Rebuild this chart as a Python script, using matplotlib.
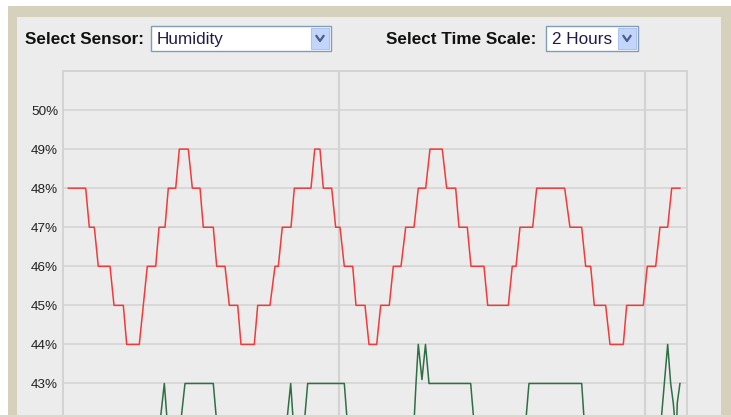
# -*- coding: utf-8 -*-
import matplotlib.pyplot as plt
from matplotlib.patches import Rectangle
from matplotlib.lines import Line2D

#%% Data (time in minutes after 10:00, humidity in %)
# red sensor: plateaus (start, end, level)
red_start = [6.92, 11.04, 12.80, 15.88, 18.37, 22.41, 24.71, 26.53, 28.69, 31.24,
             33.39, 36.02, 38.49, 40.78, 44.06, 47.45, 48.88, 51.24, 55.24, 56.92,
             59.35, 61.04, 63.33, 65.88, 68.18, 70.65, 73.08, 75.55, 77.84, 81.12,
             83.53, 85.88, 89.16, 93.98, 95.49, 98.76, 105.29, 108.37, 110.06, 113.14,
             116.41, 120.45, 122.94, 125.24]
red_end = [10.33, 12.02, 15.10, 17.71, 20.84, 24.06, 25.88, 27.98, 30.45, 32.75,
           35.35, 37.65, 40.14, 43.39, 46.47, 48.10, 50.59, 54.51, 56.27, 58.57,
           60.20, 62.69, 65.10, 67.39, 69.86, 72.16, 74.71, 77.00, 80.25, 82.88,
           85.16, 88.43, 93.20, 94.71, 97.98, 104.25, 107.59, 109.35, 112.29, 115.75,
           119.67, 122.10, 124.45, 126.86]
red_level = [48, 47, 46, 45, 44, 46, 47, 48, 49, 48,
             47, 46, 45, 44, 45, 46, 47, 48, 49, 48,
             47, 46, 45, 44, 45, 46, 47, 48, 49, 48,
             47, 46, 45, 46, 47, 48, 47, 46, 45, 44,
             45, 46, 47, 48]

# green sensor
green_minutes = [6.92, 24.90, 25.75, 26.33, 28.96, 29.80, 35.35, 36.02, 49.75, 50.53,
                 51.04, 53.20, 53.86, 61.04, 61.63, 74.71, 75.10, 75.55, 76.27, 76.96,
                 77.65, 85.82, 86.47, 96.61, 97.25, 107.59, 108.10, 123.14, 124.45, 125.04,
                 125.55, 125.88, 126.22, 126.33, 126.86]
green_values = [42, 42, 43, 42, 42, 43, 43, 42, 42, 43,
                42, 42, 43, 43, 42, 42, 43, 44, 43.1, 44,
                43, 43, 42, 42, 43, 43, 42, 42, 44, 43,
                42.5, 42, 42, 42.5, 43]

y_ticks = [43, 44, 45, 46, 47, 48, 49, 50]
hour_marks = [60, 120]
sensor_label = 'Select Sensor:'
sensor_name = 'Humidity'
scale_label = 'Select Time Scale:'
scale_name = '2 Hours'

#%% Layout helpers
W, H = 731, 417
TAN = '#d5d1bd'
PANEL = '#ececec'
GRID = '#d3d3d3'

fig = plt.figure(figsize=(W / 100, H / 100), dpi=100, facecolor='white')


def rect(x0, y0, x1, y1, **kw):
    r = Rectangle((x0 / W, 1 - y1 / H), (x1 - x0) / W, (y1 - y0) / H,
                  transform=fig.transFigure, **kw)
    fig.add_artist(r)
    return r


def dropdown(x0, x1, text):
    rect(x0, 26, x1, 51, facecolor='white', edgecolor='#7f9db9', lw=1, zorder=2)
    rect(x1 - 20, 28, x1 - 2, 49, facecolor='#c4d5fb', edgecolor='#aec3ee', lw=0.8, zorder=3)
    cx = x1 - 11
    fig.add_artist(Line2D([(cx - 3.5) / W, cx / W, (cx + 3.5) / W],
                          [1 - 36 / H, 1 - 41 / H, 1 - 36 / H],
                          transform=fig.transFigure, color='#4a5e8a', lw=1.6, zorder=4))
    fig.text((x0 + 6) / W, 1 - 39.5 / H, text, fontsize=12.3, family='Liberation Sans',
             color='#241a4a', va='center', zorder=4)


# frame and panel
rect(8, 6, W, H, facecolor=TAN, edgecolor='none', zorder=0)
rect(17, 17, 721, 415, facecolor=PANEL, edgecolor='none', zorder=0)

# controls
fig.text(25 / W, 1 - 39.5 / H, sensor_label, fontsize=12.3, fontweight='bold',
         family='Liberation Sans', color='#111111', va='center')
dropdown(151, 331, sensor_name)
fig.text(386 / W, 1 - 39.5 / H, scale_label, fontsize=12.3, fontweight='bold',
         family='Liberation Sans', color='#111111', va='center')
dropdown(546, 638, scale_name)

#%% Chart
top_px, bottom_px = 71, 71 + 10.5 * 39.06
ax = fig.add_axes([63 / W, 1 - bottom_px / H, (687 - 63) / W, (bottom_px - top_px) / H])
ax.set_facecolor(PANEL)

red_x, red_y = [], []
for s, e, lv in zip(red_start, red_end, red_level):
    red_x += [s, e]
    red_y += [lv, lv]
ax.plot(red_x, red_y, color='#f23a3a', lw=1.1, zorder=3)
ax.plot(green_minutes, green_values, color='#2e6f45', lw=1.1, zorder=3)

ax.set_xlim(5.88, 128.24)
ax.set_ylim(40.5, 51)
ax.set_yticks(y_ticks)
ax.set_yticklabels(['%d%%' % v for v in y_ticks])
ax.set_xticks(hour_marks)
ax.tick_params(axis='x', length=0, labelbottom=False)
ax.tick_params(axis='y', length=0, pad=3.5, labelsize=9.7, labelcolor='#222222')
for lbl in ax.get_yticklabels():
    lbl.set_family('Liberation Sans')
ax.grid(axis='y', color=GRID, lw=1.1, zorder=1)
ax.grid(axis='x', color=GRID, lw=1.6, zorder=1)
ax.set_axisbelow(True)
for sp in ax.spines.values():
    sp.set_color(GRID)
    sp.set_linewidth(1.4)

# thin bottom edge of the screenshot
rect(0, 415, W, H, facecolor='#ddd9c8', edgecolor='none', zorder=10)

fig.savefig('out.png', dpi=100)
